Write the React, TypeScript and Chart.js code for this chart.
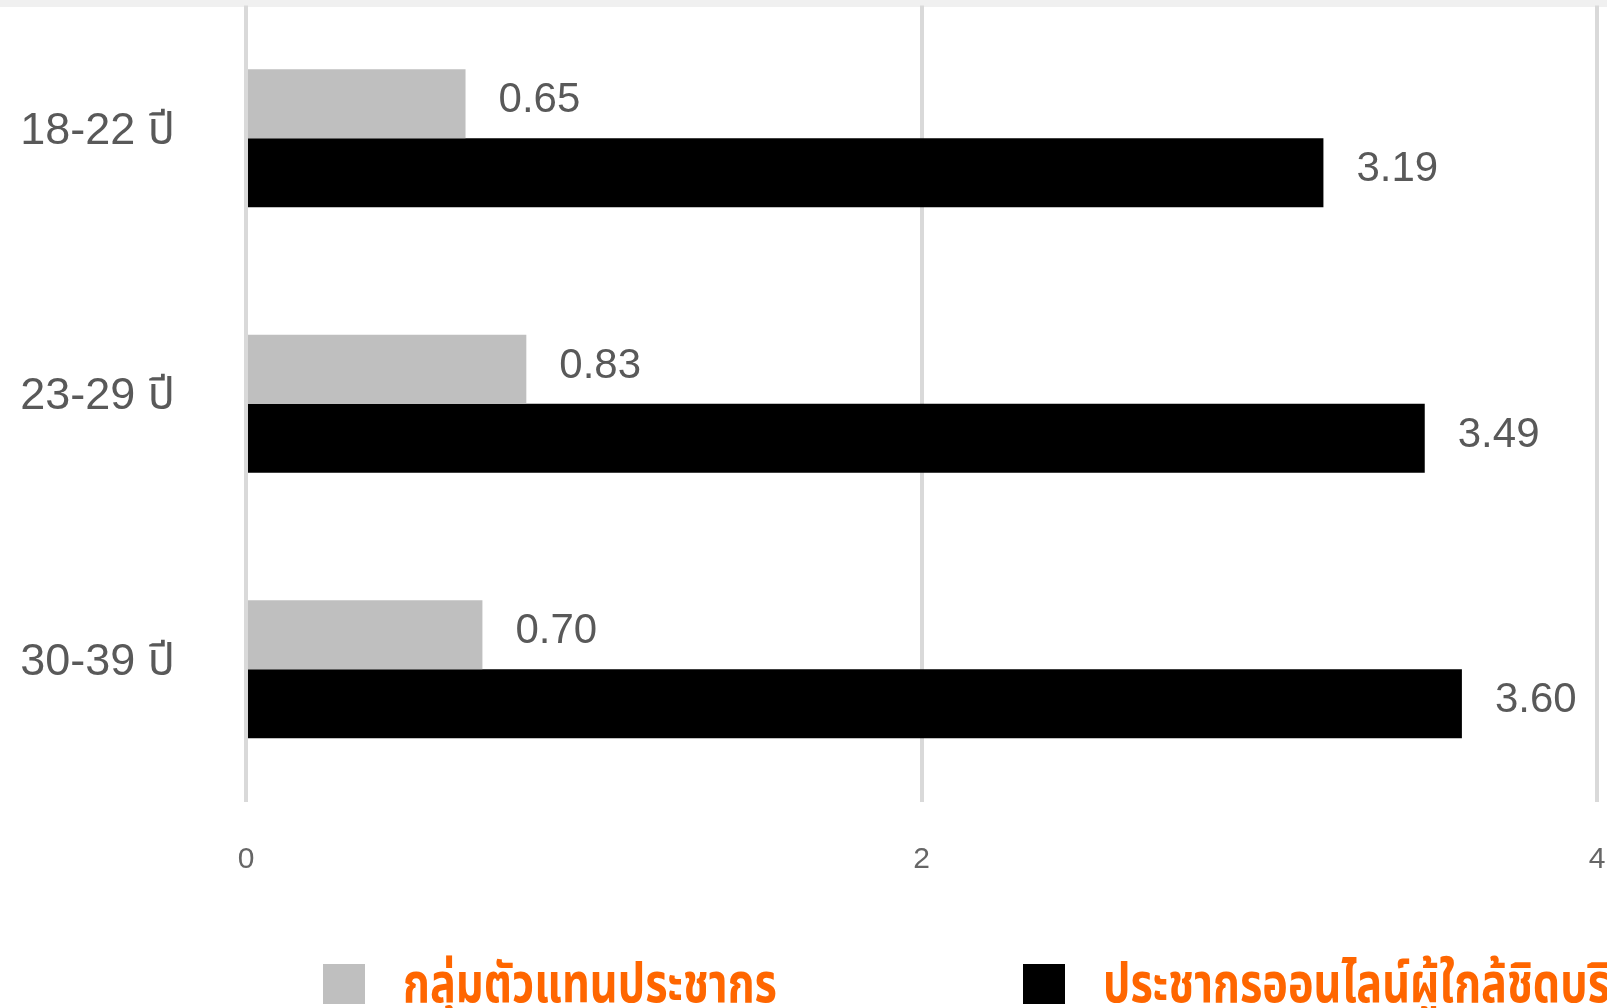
import React, { useEffect, useRef } from "react";
import { Chart, registerables } from "chart.js";

Chart.register(...registerables);

const categories = ["18-22 ปี", "23-29 ปี", "30-39 ปี"];
const seriesNames = ["กลุ่มตัวแทนประชากร", "ประชากรออนไลน์ผู้ใกล้ชิดบริษัท"];
const sampleValues = [0.65, 0.83, 0.7];
const onlineValues = [3.19, 3.49, 3.6];
const xTicks = [0, 2, 4];

const seriesColors = ["#bfbfbf", "#000000"];
const LABEL_FONT = "'Liberation Sans', Tahoma, 'DejaVu Sans', 'Noto Sans Thai', sans-serif";
const THAI_FONT = "'Noto Sans Thai', 'Noto Sans Thai UI', 'Noto Sans', sans-serif";

const CANVAS_W = 1700;
const CANVAS_H = 1008;

const backgroundPlugin = {
  id: "bgStrip",
  beforeDraw(chart: any) {
    const ctx = chart.ctx;
    ctx.save();
    ctx.fillStyle = "#ffffff";
    ctx.fillRect(0, 0, chart.width, chart.height);
    ctx.fillStyle = "#f0f0f0";
    ctx.fillRect(0, 0, chart.width, 7);
    ctx.restore();
  },
};

const valueLabelPlugin = {
  id: "valueLabels",
  afterDatasetsDraw(chart: any) {
    const ctx = chart.ctx;
    ctx.save();
    ctx.font = `42px ${LABEL_FONT}`;
    ctx.fillStyle = "#595959";
    ctx.textAlign = "left";
    ctx.textBaseline = "middle";
    chart.data.datasets.forEach((ds: any, i: number) => {
      const meta = chart.getDatasetMeta(i);
      meta.data.forEach((bar: any, j: number) => {
        const v = ds.data[j];
        ctx.fillText(Number(v).toFixed(2), bar.x + 33, bar.y - 3);
      });
    });
    ctx.restore();
  },
};

const legendPlugin = {
  id: "customLegend",
  afterDraw(chart: any) {
    const ctx = chart.ctx;
    const boxY = 964;
    const boxW = 42;
    const boxH = 40;
    const starts = [323, 1023];
    ctx.save();
    // determine font size so Thai body height ~30px
    let size = 56;
    ctx.font = `bold ${size}px ${THAI_FONT}`;
    const m = ctx.measureText("น");
    const bodyH = m.actualBoundingBoxAscent || size * 0.55;
    size = size * (30 / bodyH);
    ctx.font = `bold ${size}px ${THAI_FONT}`;
    const w1 = ctx.measureText(seriesNames[0]).width;
    const sx = 374 / w1;
    ctx.textBaseline = "alphabetic";
    ctx.textAlign = "left";
    seriesNames.forEach((name, i) => {
      const x = starts[i];
      ctx.fillStyle = seriesColors[i];
      ctx.fillRect(x, boxY, boxW, boxH);
      ctx.save();
      ctx.translate(x + 80, 1002);
      ctx.scale(sx, 1);
      ctx.fillStyle = "#ff6600";
      ctx.fillText(name, 0, 0);
      ctx.restore();
    });
    ctx.restore();
  },
};

export default function App() {
  const ref = useRef<HTMLCanvasElement | null>(null);

  useEffect(() => {
    if (!ref.current) return;
    const chart = new Chart(ref.current, {
      type: "bar",
      data: {
        labels: categories,
        datasets: [
          {
            label: seriesNames[0],
            data: sampleValues,
            backgroundColor: seriesColors[0],
            borderWidth: 0,
          },
          {
            label: seriesNames[1],
            data: onlineValues,
            backgroundColor: seriesColors[1],
            borderWidth: 0,
          },
        ],
      },
      options: {
        indexAxis: "y",
        responsive: false,
        animation: false,
        devicePixelRatio: 1,
        layout: { padding: { top: 5.5, right: CANVAS_W - 1597, left: 0, bottom: 0 } },
        datasets: {
          bar: { categoryPercentage: 0.52, barPercentage: 1 },
        },
        plugins: {
          legend: { display: false },
          tooltip: { enabled: false },
        },
        scales: {
          x: {
            min: 0,
            max: 4,
            afterBuildTicks(scale: any) {
              scale.ticks = xTicks.map((v) => ({ value: v }));
            },
            afterFit(scale: any) {
              scale.height = CANVAS_H - 802;
              scale.paddingLeft = 0;
              scale.paddingRight = 0;
            },
            grid: {
              color: "#d9d9d9",
              lineWidth: 4,
              drawTicks: false,
            },
            border: { display: false },
            ticks: {
              color: "#666666",
              font: { size: 30, family: LABEL_FONT },
              padding: 40,
            },
          },
          y: {
            afterFit(scale: any) {
              scale.width = 246;
              scale.paddingTop = 0;
              scale.paddingBottom = 0;
            },
            grid: { display: false, drawTicks: false },
            border: { display: false },
            ticks: {
              color: "#595959",
              font: { size: 45, family: LABEL_FONT },
              padding: 71,
              labelOffset: -7,
            },
          },
        },
      },
      plugins: [backgroundPlugin, valueLabelPlugin, legendPlugin],
    });
    return () => chart.destroy();
  }, []);

  return (
    <div
      style={{
        position: "fixed",
        left: 0,
        top: 0,
        width: 1607,
        height: 1008,
        overflow: "hidden",
        background: "#ffffff",
      }}
    >
      <canvas
        ref={ref}
        width={CANVAS_W}
        height={CANVAS_H}
        style={{ display: "block", width: CANVAS_W, height: CANVAS_H }}
      />
    </div>
  );
}
